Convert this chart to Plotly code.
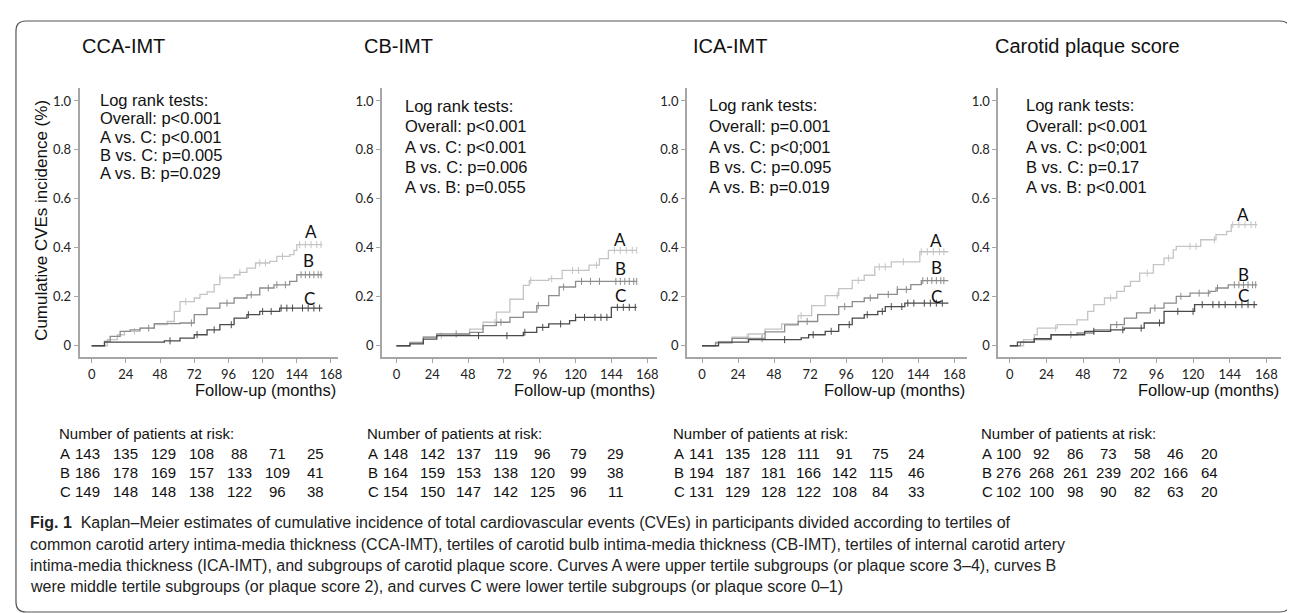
import numpy as np
import plotly.graph_objects as go

# ---------------- data ----------------
titles = ["CCA-IMT", "CB-IMT", "ICA-IMT", "Carotid plaque score"]
logrank = [
    ["Log rank tests:", "Overall: p<0.001", "A vs. C: p<0.001", "B vs. C: p=0.005", "A vs. B: p=0.029"],
    ["Log rank tests:", "Overall: p<0.001", "A vs. C: p<0.001", "B vs. C: p=0.006", "A vs. B: p=0.055"],
    ["Log rank tests:", "Overall: p=0.001", "A vs. C: p<0;001", "B vs. C: p=0.095", "A vs. B: p=0.019"],
    ["Log rank tests:", "Overall: p<0.001", "A vs. C: p<0;001", "B vs. C: p=0.17", "A vs. B: p<0.001"],
]
risk_A = [[143, 135, 129, 108, 88, 71, 25], [148, 142, 137, 119, 96, 79, 29],
          [141, 135, 128, 111, 91, 75, 24], [100, 92, 86, 73, 58, 46, 20]]
risk_B = [[186, 178, 169, 157, 133, 109, 41], [164, 159, 153, 138, 120, 99, 38],
          [194, 187, 181, 166, 142, 115, 46], [276, 268, 261, 239, 202, 166, 64]]
risk_C = [[149, 148, 148, 138, 122, 96, 38], [154, 150, 147, 142, 125, 96, 11],
          [131, 129, 128, 122, 108, 84, 33], [102, 100, 98, 90, 82, 63, 20]]

x_ticks = [0, 24, 48, 72, 96, 120, 144, 168]
y_ticks = [0, 0.2, 0.4, 0.6, 0.8, 1.0]
y_ticktext = ["0", "0.2", "0.4", "0.6", "0.8", "1.0"]

# CCA-IMT
cca_A_t = [0, 11, 18, 23, 34, 44, 53, 58, 62, 72, 76, 81, 86, 90, 100, 104, 109, 115, 125, 130, 139, 142, 144, 162]
cca_A_v = [0, 0.025, 0.045, 0.059, 0.072, 0.086, 0.099, 0.14, 0.18, 0.195, 0.21, 0.22, 0.25, 0.277, 0.29, 0.30, 0.317, 0.338, 0.345, 0.365, 0.372, 0.39, 0.413, 0.413]
cca_B_t = [0, 9, 13, 20, 27, 34, 44, 62, 72, 81, 90, 100, 109, 118, 128, 139, 144, 162]
cca_B_v = [0, 0.018, 0.038, 0.059, 0.065, 0.072, 0.090, 0.093, 0.127, 0.154, 0.174, 0.195, 0.208, 0.236, 0.249, 0.263, 0.29, 0.29]
cca_C_t = [0, 9, 51, 62, 72, 81, 90, 100, 109, 118, 132, 162]
cca_C_v = [0, 0.015, 0.02, 0.031, 0.045, 0.065, 0.086, 0.113, 0.127, 0.14, 0.154, 0.154]
# CB-IMT
cb_A_t = [0, 9, 18, 27, 40, 49, 58, 67, 76, 85, 89, 102, 111, 122, 129, 136, 142, 161]
cb_A_v = [0, 0.015, 0.035, 0.041, 0.048, 0.068, 0.096, 0.137, 0.19, 0.247, 0.267, 0.274, 0.308, 0.308, 0.329, 0.356, 0.39, 0.39]
cb_B_t = [0, 9, 18, 27, 49, 58, 67, 76, 85, 94, 102, 109, 120, 161]
cb_B_v = [0, 0.012, 0.035, 0.048, 0.055, 0.082, 0.096, 0.116, 0.137, 0.164, 0.205, 0.24, 0.263, 0.263]
cb_C_t = [0, 9, 18, 27, 80, 85, 94, 102, 116, 120, 144, 161]
cb_C_v = [0, 0.008, 0.027, 0.041, 0.041, 0.055, 0.075, 0.089, 0.103, 0.116, 0.157, 0.157]
# ICA-IMT
ica_A_t = [0, 9, 20, 31, 42, 53, 64, 73, 82, 91, 100, 108, 115, 126, 145, 164]
ica_A_v = [0, 0.015, 0.035, 0.048, 0.068, 0.089, 0.123, 0.164, 0.205, 0.233, 0.267, 0.288, 0.322, 0.343, 0.384, 0.384]
ica_B_t = [0, 9, 20, 42, 55, 64, 77, 91, 100, 108, 117, 130, 139, 146, 164]
ica_B_v = [0, 0.012, 0.03, 0.057, 0.085, 0.099, 0.127, 0.16, 0.18, 0.195, 0.21, 0.23, 0.25, 0.266, 0.266]
ica_C_t = [0, 11, 31, 66, 71, 82, 91, 100, 108, 117, 122, 135, 164]
ica_C_v = [0, 0.015, 0.025, 0.032, 0.045, 0.059, 0.086, 0.113, 0.127, 0.14, 0.16, 0.174, 0.174]
# Carotid plaque score
cps_A_t = [0, 9, 16, 18, 31, 44, 51, 55, 62, 70, 75, 79, 85, 94, 101, 107, 109, 125, 135, 142, 145, 162]
cps_A_v = [0, 0.025, 0.045, 0.072, 0.086, 0.106, 0.14, 0.168, 0.195, 0.222, 0.243, 0.263, 0.297, 0.331, 0.358, 0.392, 0.406, 0.433, 0.454, 0.467, 0.495, 0.495]
cps_B_t = [0, 7, 16, 27, 44, 55, 66, 75, 83, 92, 101, 109, 118, 131, 135, 143, 162]
cps_B_v = [0, 0.015, 0.025, 0.045, 0.052, 0.065, 0.086, 0.113, 0.134, 0.154, 0.174, 0.202, 0.215, 0.222, 0.236, 0.249, 0.249]
cps_C_t = [0, 5, 16, 27, 49, 66, 75, 88, 101, 118, 121, 162]
cps_C_v = [0, 0.015, 0.029, 0.045, 0.059, 0.065, 0.072, 0.093, 0.14, 0.14, 0.168, 0.168]

curves = [
    [(cca_A_t, cca_A_v), (cca_B_t, cca_B_v), (cca_C_t, cca_C_v)],
    [(cb_A_t, cb_A_v), (cb_B_t, cb_B_v), (cb_C_t, cb_C_v)],
    [(ica_A_t, ica_A_v), (ica_B_t, ica_B_v), (ica_C_t, ica_C_v)],
    [(cps_A_t, cps_A_v), (cps_B_t, cps_B_v), (cps_C_t, cps_C_v)],
]
# censoring times (approximate)
censor_A = [30, 66, 90, 104, 118, 122, 134, 146, 150, 154, 158, 161]
censor_B = [40, 70, 95, 112, 124, 130, 136, 147, 150, 153, 156, 159, 161]
censor_C = [55, 74, 86, 98, 110, 120, 126, 133, 137, 141, 148, 152, 156, 160]
label_pos = [
    [(154, 0.468), (152, 0.35), (153, 0.195)],
    [(150, 0.433), (150, 0.315), (150, 0.205)],
    [(156, 0.432), (156, 0.318), (156, 0.2)],
    [(153, 0.535), (153, 0.29), (153, 0.205)],
]
group_names = ["A", "B", "C"]
colors = ["#c4c4c4", "#8c8c8c", "#4a4a4a"]

# ---------------- layout geometry (pixels) ----------------
W, H = 1295, 613
def xp(px): return px / W
def yp(py): return 1 - py / H

panel_geo = [  # left edge, right edge, px of t=0, px per month
    (72, 331, 84, 1.43),
    (375.7, 651.7, 390, 1.498),
    (681.7, 963, 696.7, 1.508),
    (994.3, 1278, 1005.7, 1.533),
]
y_top_px, y_bot_px = 80, 349
y_range = [-0.046, 1.053]

fig = go.Figure()
annotations = []
TXT = "Liberation Sans, Arial, sans-serif"
TICKF = "Lato, Liberation Sans, sans-serif"
NARROW = "Liberation Sans Narrow, Arial Narrow, Liberation Sans, sans-serif"

def step_val(t_arr, v_arr, t):
    i = np.searchsorted(np.array(t_arr), t, side="right") - 1
    return v_arr[max(i, 0)]

for p in range(4):
    left, right, t0, ppm = panel_geo[p]
    xa = "x" if p == 0 else f"x{p+1}"
    ya = "y" if p == 0 else f"y{p+1}"
    xname = "xaxis" if p == 0 else f"xaxis{p+1}"
    yname = "yaxis" if p == 0 else f"yaxis{p+1}"
    xr = [(left - t0) / ppm, (right - t0) / ppm]
    fig.layout[xname] = dict(domain=[xp(left), xp(right)], range=xr, anchor=ya,
                             tickvals=x_ticks, showgrid=False, zeroline=False,
                             showline=True, linecolor="#a6a6a6", linewidth=2,
                             ticks="outside", ticklen=4, tickcolor="#a6a6a6", tickwidth=1,
                             tickfont=dict(family=TICKF, size=13, color="#222"))
    fig.layout[yname] = dict(domain=[yp(y_bot_px), yp(y_top_px)], range=y_range, anchor=xa,
                             tickvals=y_ticks, ticktext=y_ticktext, showgrid=False, zeroline=False,
                             showline=True, linecolor="#a6a6a6", linewidth=2,
                             ticks="outside", ticklen=4, tickcolor="#a6a6a6", tickwidth=1,
                             tickfont=dict(family=TICKF, size=13, color="#222"))
    cens = [censor_A, censor_B, censor_C]
    for g in range(3):
        t_arr, v_arr = curves[p][g]
        fig.add_trace(go.Scatter(x=t_arr, y=v_arr, mode="lines", line=dict(color=colors[g], width=1.3, shape="hv"),
                                 xaxis=xa, yaxis=ya, showlegend=False, hoverinfo="skip"))
        ct = [c for c in cens[g] if c <= t_arr[-1]]
        cv = [step_val(t_arr, v_arr, c) for c in ct]
        fig.add_trace(go.Scatter(x=ct, y=cv, mode="markers",
                                 marker=dict(symbol="line-ns", size=5, line=dict(color=colors[g], width=1)),
                                 xaxis=xa, yaxis=ya, showlegend=False, hoverinfo="skip"))
        lx, ly = label_pos[p][g]
        annotations.append(dict(x=lx, y=ly, xref=xa, yref=ya, text=group_names[g], showarrow=False,
                                font=dict(family=TICKF, size=17, color="#111")))
    annotations.append(dict(x=xp(right), y=yp(382), xref="paper", yref="paper", xanchor="right", yanchor="middle",
                            text="Follow-up (months)", showarrow=False, font=dict(family=TXT, size=16.5, color="#111")))

# titles
title_x = [116, 392, 725, 1084]
for p in range(4):
    annotations.append(dict(x=xp(title_x[p]), y=yp(38), xref="paper", yref="paper", xanchor="center", yanchor="middle",
                            text=titles[p], showarrow=False, font=dict(family=TXT, size=20, color="#111")))
# log rank text
lr_x = [90, 397, 702, 1020]
lr_y = [[92, 110, 129, 147, 165], [98, 118, 139, 159, 179], [97, 118, 139, 159, 179], [97, 118, 139, 159, 179]]
for p in range(4):
    for i, line in enumerate(logrank[p]):
        annotations.append(dict(x=xp(lr_x[p]), y=yp(lr_y[p][i]), xref="paper", yref="paper", xanchor="left",
                                yanchor="middle", text=line, showarrow=False,
                                font=dict(family=TXT, size=16.5, color="#111")))
# y axis title
annotations.append(dict(x=xp(33), y=yp(212), xref="paper", yref="paper", xanchor="center", yanchor="middle",
                        text="Cumulative CVEs incidence (%)", textangle=-90, showarrow=False,
                        font=dict(family=TXT, size=17, color="#111")))
# risk tables (column layout)
rt_x = [50, 359, 667, 976]          # letter position
rt_first = [80, 389, 696, 1004]     # first column centre
rt_last = [309, 610, 912, 1206]     # last column centre
rt_y = [425, 445, 464, 483]
RF = dict(family=TXT, size=15, color="#111")
for p in range(4):
    cols = np.linspace(rt_first[p], rt_last[p], 7)
    annotations.append(dict(x=xp(rt_x[p] - 1), y=yp(rt_y[0]), xref="paper", yref="paper", xanchor="left", yanchor="middle",
                            text="Number of patients at risk:", showarrow=False, font=RF))
    for r, (nm, rows) in enumerate(zip(group_names, [risk_A, risk_B, risk_C])):
        annotations.append(dict(x=xp(rt_x[p]), y=yp(rt_y[r + 1]), xref="paper", yref="paper", xanchor="left",
                                yanchor="middle", text=nm, showarrow=False, font=RF))
        for c, val in enumerate(rows[p]):
            annotations.append(dict(x=xp(cols[c]), y=yp(rt_y[r + 1]), xref="paper", yref="paper",
                                    xanchor="center", yanchor="middle", text=str(val), showarrow=False, font=RF))
# caption
caption = [
    "<b>Fig. 1</b>  Kaplan–Meier estimates of cumulative incidence of total cardiovascular events (CVEs) in participants divided according to tertiles of",
    "common carotid artery intima-media thickness (CCA-IMT), tertiles of carotid bulb intima-media thickness (CB-IMT), tertiles of internal carotid artery",
    "intima-media thickness (ICA-IMT), and subgroups of carotid plaque score. Curves A were upper tertile subgroups (or plaque score 3–4), curves B",
    "were middle tertile subgroups (or plaque score 2), and curves C were lower tertile subgroups (or plaque score 0–1)",
]
cap_y = [514, 536, 557, 578]
for i, line in enumerate(caption):
    annotations.append(dict(x=xp(20), y=yp(cap_y[i]), xref="paper", yref="paper", xanchor="left", yanchor="middle",
                            text=line, showarrow=False, font=dict(family=NARROW, size=16, color="#222")))

# rounded border
L, T, R, B, r = 8, 13, 1287, 604, 10
path = (f"M {xp(L+r)},{yp(T)} L {xp(R-r)},{yp(T)} Q {xp(R)},{yp(T)} {xp(R)},{yp(T+r)} "
        f"L {xp(R)},{yp(B-r)} Q {xp(R)},{yp(B)} {xp(R-r)},{yp(B)} L {xp(L+r)},{yp(B)} "
        f"Q {xp(L)},{yp(B)} {xp(L)},{yp(B-r)} L {xp(L)},{yp(T+r)} Q {xp(L)},{yp(T)} {xp(L+r)},{yp(T)} Z")
fig.update_layout(
    width=W, height=H, margin=dict(l=0, r=0, t=0, b=0),
    paper_bgcolor="white", plot_bgcolor="white",
    annotations=annotations,
    shapes=[dict(type="path", path=path, xref="paper", yref="paper", line=dict(color="#555", width=1.2))],
)
fig.write_html("out.html")
